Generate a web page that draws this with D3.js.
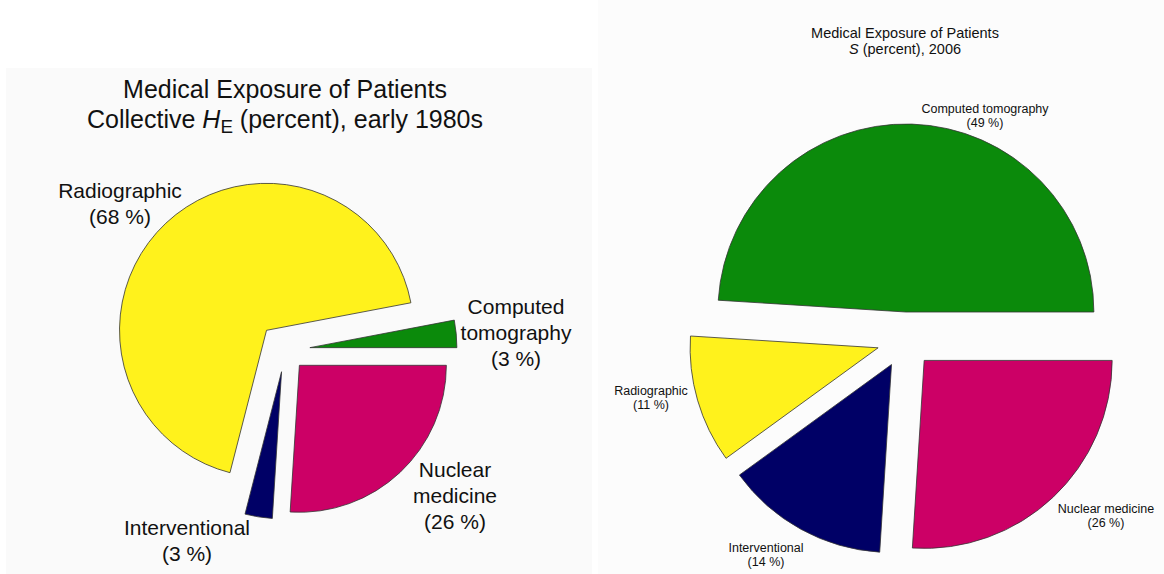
<!DOCTYPE html>
<html lang="en">
<head>
  <meta charset="UTF-8" />
  <title>Medical Exposure of Patients</title>
  <script src="https://d3js.org/d3.v7.min.js"></script>
  <style>
    body { margin: 0; background-color: white; }
    text { font-family: "Liberation Sans", Arial, sans-serif; fill: #111; }
  </style>
</head>
<body>
  <div id="my_dataviz"></div>
  <script>
  // data - both pies, clockwise from computed tomography
  var categories = ["Computed tomography", "Nuclear medicine", "Interventional", "Radiographic"];
  var values1980 = [3, 26, 3, 68];
  var values2006 = [49, 26, 14, 11];
  var sliceColors = ["#0b8a0b", "#cc0066", "#000066", "#fff21c"];

  var width = 1164, height = 574;
  var deg = Math.PI / 180;

  var svg = d3.select("#my_dataviz")
    .append("svg")
      .attr("width", width)
      .attr("height", height);

  // panel backgrounds (two scanned figures side by side)
  svg.append("rect").attr("x", 6).attr("y", 68).attr("width", 586).attr("height", 506).style("fill", "#fafafa");
  svg.append("rect").attr("x", 598).attr("y", 0).attr("width", 566).attr("height", 574).style("fill", "#fcfcfc");

  var color = d3.scaleOrdinal().domain(categories).range(sliceColors);

  var panels = [
    {
      values: values1980, cx: 285, cy: 350, r: 147, start: 79.2,
      explode: [25, 21, 22, 27],
      titleSize: 25, titleY: 98, titleGap: 30,
      title2: ["Collective ", "H", "E", " (percent), early 1980s"],
      fontSize: 21, lineH: 26,
      labels: [
        { lines: ["Computed", "tomography"], dx: 231, dy: -36 },
        { lines: ["Nuclear", "medicine"], dx: 170, dy: 127 },
        { lines: ["Interventional"], dx: -98, dy: 185 },
        { lines: ["Radiographic"], dx: -165, dy: -152 }
      ]
    },
    {
      values: values2006, cx: 905, cy: 340, r: 188, start: -86.4,
      explode: [28, 28, 28, 28],
      titleSize: 14.5, titleY: 38, titleGap: 16,
      title2: ["", "S", "", " (percent), 2006"],
      fontSize: 12.5, lineH: 14,
      labels: [
        { lines: ["Computed tomography"], dx: 80, dy: -227 },
        { lines: ["Nuclear medicine"], dx: 201, dy: 173 },
        { lines: ["Interventional"], dx: -139, dy: 212 },
        { lines: ["Radiographic"], dx: -254, dy: 55 }
      ]
    }
  ];

  panels.forEach(function(p) {
    var g = svg.append("g").attr("transform", "translate(" + p.cx + "," + p.cy + ")");

    var pie = d3.pie().sort(null)
      .startAngle(p.start * deg)
      .endAngle(p.start * deg + 2 * Math.PI);
    var arc = d3.arc().innerRadius(0).outerRadius(p.r);

    var slices = pie(p.values);

    // exploded slices
    g.selectAll("path")
      .data(slices)
      .enter()
      .append("path")
        .attr("d", arc)
        .attr("transform", function(d, i) {
          var a = (d.startAngle + d.endAngle) / 2;
          var off = p.explode[i];
          return "translate(" + (Math.sin(a) * off) + "," + (-Math.cos(a) * off) + ")";
        })
        .style("fill", function(d, i) { return color(categories[i]); })
        .style("stroke", "#333")
        .style("stroke-width", 0.8);

    // labels
    p.labels.forEach(function(l, i) {
      var t = g.append("text")
        .attr("text-anchor", "middle")
        .style("font-size", p.fontSize + "px");
      var lines = l.lines.concat(["(" + p.values[i] + " %)"]);
      lines.forEach(function(s, k) {
        t.append("tspan").attr("x", l.dx).attr("y", l.dy + k * p.lineH).text(s);
      });
    });

    // title
    svg.append("text")
      .attr("x", p.cx).attr("y", p.titleY)
      .attr("text-anchor", "middle")
      .style("font-size", p.titleSize + "px")
      .text("Medical Exposure of Patients");
    var t2 = svg.append("text")
      .attr("x", p.cx).attr("y", p.titleY + p.titleGap)
      .attr("text-anchor", "middle")
      .style("font-size", p.titleSize + "px");
    t2.append("tspan").text(p.title2[0]);
    t2.append("tspan").style("font-style", "italic").text(p.title2[1]);
    if (p.title2[2]) {
      t2.append("tspan").attr("dy", p.titleSize * 0.18).style("font-size", (p.titleSize * 0.75) + "px").text(p.title2[2]);
      t2.append("tspan").attr("dy", -p.titleSize * 0.18).text(p.title2[3]);
    } else {
      t2.append("tspan").text(p.title2[3]);
    }
  });
  </script>
</body>
</html>
